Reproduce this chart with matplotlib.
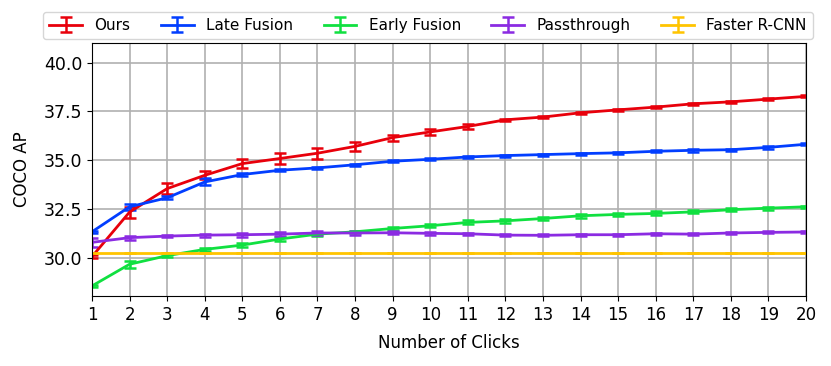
import matplotlib
matplotlib.use("Agg")
import matplotlib.pyplot as plt
import numpy as np

clicks = list(range(1, 21))

ours = [30.07, 32.35, 33.55, 34.23, 34.83, 35.09, 35.36, 35.71, 36.16, 36.45,
        36.73, 37.07, 37.21, 37.43, 37.58, 37.72, 37.89, 37.99, 38.13, 38.27]
ours_err = [0.08, 0.28, 0.28, 0.2, 0.22, 0.26, 0.27, 0.22, 0.15, 0.14,
            0.15, 0.06, 0.05, 0.06, 0.05, 0.05, 0.06, 0.05, 0.05, 0.05]

late = [31.34, 32.62, 33.08, 33.89, 34.27, 34.49, 34.61, 34.77, 34.95, 35.05,
        35.17, 35.24, 35.29, 35.34, 35.38, 35.46, 35.51, 35.54, 35.66, 35.82]
late_err = [0.05, 0.15, 0.08, 0.18, 0.06, 0.05, 0.05, 0.05, 0.05, 0.05,
            0.05, 0.05, 0.05, 0.05, 0.05, 0.06, 0.07, 0.06, 0.07, 0.05]

early = [28.57, 29.68, 30.12, 30.44, 30.66, 30.97, 31.22, 31.34, 31.51, 31.65,
         31.82, 31.90, 32.02, 32.16, 32.23, 32.28, 32.36, 32.47, 32.55, 32.62]
early_err = [0.05, 0.18, 0.06, 0.07, 0.1, 0.08, 0.07, 0.06, 0.1, 0.08,
             0.1, 0.1, 0.1, 0.1, 0.08, 0.1, 0.08, 0.07, 0.07, 0.05]

passthrough = [30.80, 31.04, 31.12, 31.17, 31.19, 31.22, 31.28, 31.28, 31.29, 31.26,
               31.24, 31.17, 31.16, 31.19, 31.19, 31.24, 31.22, 31.28, 31.31, 31.33]
pass_err = [0.22, 0.1, 0.06, 0.08, 0.1, 0.1, 0.12, 0.08, 0.08, 0.08,
            0.06, 0.06, 0.06, 0.05, 0.05, 0.06, 0.05, 0.05, 0.05, 0.05]

faster = [30.27] * 20
faster_err = [0.0] * 20

series = [
    ("Ours", ours, ours_err, "#E8000B"),
    ("Late Fusion", late, late_err, "#023EFF"),
    ("Early Fusion", early, early_err, "#10E040"),
    ("Passthrough", passthrough, pass_err, "#8B2BE2"),
    ("Faster R-CNN", faster, faster_err, "#FFC400"),
]

fig = plt.figure(figsize=(8.31, 3.66), dpi=100)
ax = fig.add_axes([0.1107, 0.191, 0.8593, 0.6915])

for name, vals, err, col in series:
    ax.errorbar(clicks, vals, yerr=err, color=col, lw=2, capsize=4,
                elinewidth=1.8, capthick=1.8, label=name)

ax.set_xlim(1, 20)
ax.set_ylim(28.05, 41.0)
ax.set_xticks(clicks)
ax.set_yticks([30.0, 32.5, 35.0, 37.5, 40.0])
ax.set_yticklabels(["30.0", "32.5", "35.0", "37.5", "40.0"])
ax.grid(True, color="#b0b0b0", lw=1.2)
ax.set_axisbelow(True)
ax.tick_params(labelsize=12)
ax.tick_params(axis="y", labelsize=12.5)
ax.set_xlabel("Number of Clicks", fontsize=12, labelpad=7.5)
ax.set_ylabel("COCO AP", fontsize=12, labelpad=9)

fig.legend(loc="upper center", bbox_to_anchor=(0.515, 1 - 12 / 366), ncol=5,
           fontsize=11, frameon=True, columnspacing=2.0, handlelength=2.15,
           borderaxespad=0)

fig.savefig("out.png", dpi=100)
